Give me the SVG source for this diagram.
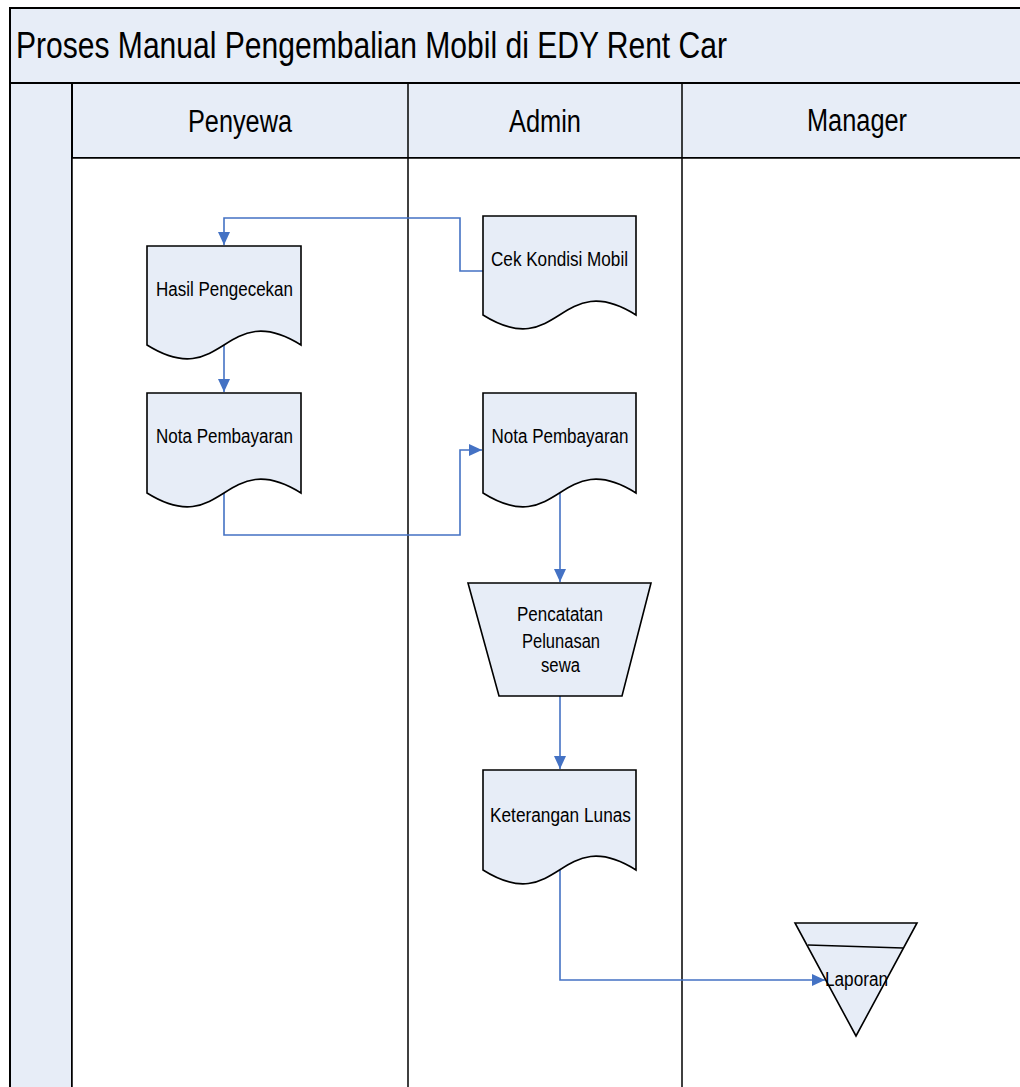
<svg xmlns="http://www.w3.org/2000/svg" width="1020" height="1087" viewBox="0 0 1020 1087">
<style>
.pool{fill:#E7EDF7;stroke:#000;stroke-width:2}
.lane{fill:none;stroke:#000;stroke-width:1.5}
.shape{fill:#E7EDF7;stroke:#000;stroke-width:1.6}
.lbl{font-family:"Liberation Sans",Arial,sans-serif;font-size:19.5px;fill:#000;text-anchor:middle}
.hdr{font-family:"Liberation Sans",Arial,sans-serif;font-size:31px;fill:#000;text-anchor:middle}
.ttl{font-family:"Liberation Sans",Arial,sans-serif;font-size:37px;fill:#000}
.conn{fill:none;stroke:#4472C4;stroke-width:1.6;marker-end:url(#arr)}
</style>
<defs>
<marker id="arr" markerUnits="userSpaceOnUse" markerWidth="13" markerHeight="12" refX="13" refY="6" orient="auto">
<path d="M0,0 L13,6 L0,12 Z" fill="#4472C4"/>
</marker>
</defs>
<rect width="1020" height="1087" fill="#fff"/>
<g id="pool">
<rect x="10" y="8" width="1030" height="75" class="pool"/>
<rect x="10" y="83" width="62" height="1020" class="pool"/>
<rect x="72" y="83" width="970" height="75" class="pool"/>
<rect x="72" y="158" width="970" height="940" fill="#fff" stroke="#000" stroke-width="1.5"/>
<line class="lane" x1="408" y1="83" x2="408" y2="1090"/>
<line class="lane" x1="682" y1="83" x2="682" y2="1090"/>
<text class="ttl" x="16" y="58" textLength="711" lengthAdjust="spacingAndGlyphs">Proses Manual Pengembalian Mobil di EDY Rent Car</text>
<text class="hdr" x="240" y="132" textLength="104" lengthAdjust="spacingAndGlyphs">Penyewa</text>
<text class="hdr" x="545" y="132" textLength="72" lengthAdjust="spacingAndGlyphs">Admin</text>
<text class="hdr" x="857" y="131" textLength="100" lengthAdjust="spacingAndGlyphs">Manager</text>
</g>
<g id="connectors">
<path class="conn" d="M483,271 H460 V218 H224 V245"/>
<path class="conn" d="M224,345 V392"/>
<path class="conn" d="M224,493 V535 H460 V450 H482"/>
<path class="conn" d="M560,493 V582"/>
<path class="conn" d="M560,696 V769"/>
<path class="conn" d="M560,870 V980 H825"/>
</g>
<g id="hasil-pengecekan">
<path class="shape" d="M147,246 H301 V345 C224,297 224,393 147,345 Z"/>
<text class="lbl" x="224.5" y="296" textLength="137" lengthAdjust="spacingAndGlyphs">Hasil Pengecekan</text>
</g>
<g id="cek-kondisi-mobil">
<path class="shape" d="M483,216 H636 V315 C559.5,267 559.5,363 483,315 Z"/>
<text class="lbl" x="559.5" y="266" textLength="137" lengthAdjust="spacingAndGlyphs">Cek Kondisi Mobil</text>
</g>
<g id="nota-pembayaran-penyewa">
<path class="shape" d="M147,393 H301 V493 C224,445 224,541 147,493 Z"/>
<text class="lbl" x="224.5" y="443" textLength="137" lengthAdjust="spacingAndGlyphs">Nota Pembayaran</text>
</g>
<g id="nota-pembayaran-admin">
<path class="shape" d="M483,393 H636 V493 C559.5,445 559.5,541 483,493 Z"/>
<text class="lbl" x="560" y="443" textLength="137" lengthAdjust="spacingAndGlyphs">Nota Pembayaran</text>
</g>
<g id="pencatatan-pelunasan">
<path class="shape" d="M468,583 H651 L622,696 H499 Z"/>
<text class="lbl" x="560" y="621" textLength="86" lengthAdjust="spacingAndGlyphs">Pencatatan</text>
<text class="lbl" x="561" y="648" textLength="78" lengthAdjust="spacingAndGlyphs">Pelunasan</text>
<text class="lbl" x="560.5" y="672" textLength="39" lengthAdjust="spacingAndGlyphs">sewa</text>
</g>
<g id="keterangan-lunas">
<path class="shape" d="M483,770 H636 V870 C559.5,822 559.5,918 483,870 Z"/>
<text class="lbl" x="560.5" y="822" textLength="141" lengthAdjust="spacingAndGlyphs">Keterangan Lunas</text>
</g>
<g id="laporan">
<path class="shape" d="M795,923 H917 L856,1036 Z"/>
<line x1="808" y1="945" x2="903" y2="948" stroke="#000" stroke-width="1.6"/>
<text class="lbl" x="856.5" y="986" textLength="63" lengthAdjust="spacingAndGlyphs">Laporan</text>
</g>
</svg>
